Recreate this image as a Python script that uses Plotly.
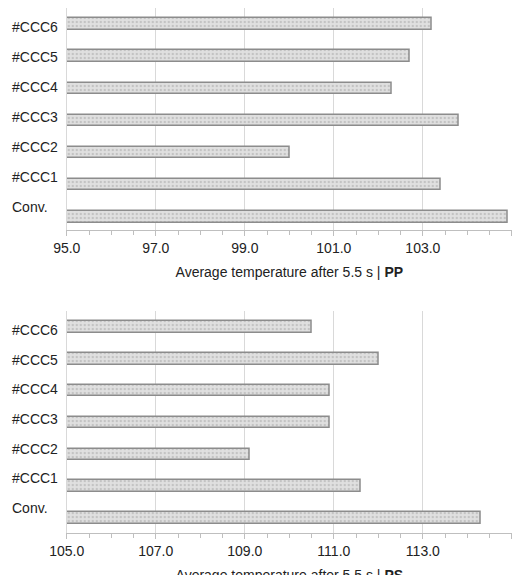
import plotly.graph_objects as go

categories = ["Conv.", "#CCC1", "#CCC2", "#CCC3", "#CCC4", "#CCC5", "#CCC6"]
pp_values = [104.9, 103.4, 100.0, 103.8, 102.3, 102.7, 103.2]
ps_values = [114.3, 111.6, 109.1, 110.9, 110.9, 112.0, 110.5]
pp_ticks = [95.0, 97.0, 99.0, 101.0, 103.0, 105.0]
ps_ticks = [105.0, 107.0, 109.0, 111.0, 113.0, 115.0]

pos = list(range(len(categories)))
FONT = "Liberation Sans, Arial, sans-serif"

fig = go.Figure()
for vals, ticks, xa, ya in [(pp_values, pp_ticks, "x", "y"), (ps_values, ps_ticks, "x2", "y2")]:
    base = ticks[0]
    fig.add_trace(go.Bar(
        y=pos, x=[v - base for v in vals], base=base, orientation="h",
        width=0.36, xaxis=xa, yaxis=ya, showlegend=False,
        marker=dict(color="#d9d9d9", line=dict(color="#8c8c8c", width=1.5),
                    pattern=dict(shape=".", fgcolor="#a6a6a6", bgcolor="#e0e0e0", size=4, solidity=0.3)),
    ))
    for i, c in enumerate(categories):
        j = len(categories) - 1 - i
        off = (-3 + 2.2 * j) / 32
        fig.add_annotation(x=0.004, xref="paper", y=i + off, yref=ya, text=c,
                           showarrow=False, xanchor="left", yanchor="middle",
                           font=dict(family=FONT, size=14, color="#222"))

def xaxis(ticks, domain_anchor, title):
    return dict(range=[ticks[0], ticks[-1]], tickvals=ticks, ticktext=[f"{t:.1f}" for t in ticks],
                domain=[0.113, 0.969], anchor=domain_anchor, showgrid=True, gridcolor="#d9d9d9",
                gridwidth=1, showline=True, linecolor="#bfbfbf", ticks="outside", ticklen=5,
                tickcolor="#bfbfbf", minor=dict(dtick=0.5, ticks="outside", ticklen=4, tickcolor="#bfbfbf", showgrid=False),
                tickfont=dict(family=FONT, size=14, color="#222"), zeroline=False, automargin=False,
                title=dict(text=title, font=dict(family=FONT, size=14, color="#222"), standoff=12))

fig.update_layout(
    width=520, height=575, margin=dict(l=0, r=0, t=0, b=0, autoexpand=False),
    plot_bgcolor="white", paper_bgcolor="white", bargap=0,
    xaxis=xaxis(pp_ticks, "y", "Average temperature after 5.5 s | <b>PP</b>"),
    xaxis2=xaxis(ps_ticks, "y2", "Average temperature after 5.5 s | <b>PS</b>"),
    yaxis=dict(domain=[0.614, 1.0], range=[-0.41, 6.5], showticklabels=False, showgrid=False,
               zeroline=False, showline=True, linecolor="#d9d9d9", anchor="x", automargin=False),
    yaxis2=dict(domain=[0.087, 0.473], range=[-0.47, 6.5], showticklabels=False, showgrid=False,
                zeroline=False, showline=True, linecolor="#d9d9d9", anchor="x2", automargin=False),
)
fig.write_html("out.html")
